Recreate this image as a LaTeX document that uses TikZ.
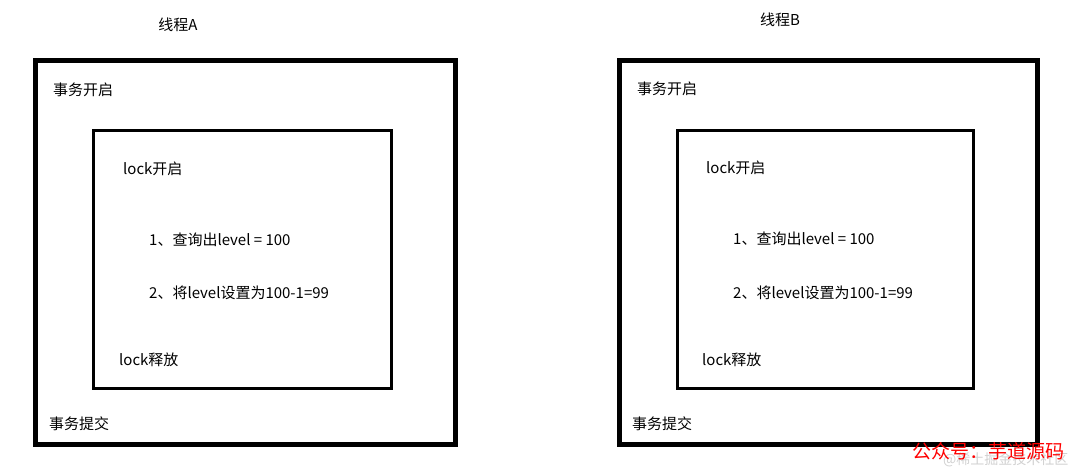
\documentclass[tikz,border=0pt]{standalone}
\usepackage{fontspec}
\setmainfont{Noto Sans CJK SC}
\usepackage{xcolor}

\begin{document}
\begin{tikzpicture}[x=1pt,y=1pt,yscale=-1,xscale=1,
  txbox/.style={line width=5pt},
  lockbox/.style={line width=3pt},
  lbl/.style={anchor=west,inner sep=0pt,font=\fontsize{15}{18}\selectfont}]
\useasboundingbox (0,0) rectangle (1080,474);

%Shape: Rectangle [id:outerA] 
\draw [txbox] (35.5,60) -- (455.5,60) -- (455.5,444) -- (35.5,444) -- cycle ;
%Shape: Rectangle [id:innerA] 
\draw [lockbox] (93.5,130) -- (391.5,130) -- (391.5,388) -- (93.5,388) -- cycle ;
%Shape: Rectangle [id:outerB] 
\draw [txbox] (619.5,60) -- (1037.5,60) -- (1037.5,444.5) -- (619.5,444.5) -- cycle ;
%Shape: Rectangle [id:innerB] 
\draw [lockbox] (677.5,130.5) -- (973.5,130.5) -- (973.5,388.5) -- (677.5,388.5) -- cycle ;

% Text Node
\draw (178,25) node (titleA) [font=\fontsize{15}{18}\selectfont] {线程A};
% Text Node
\draw (780,20) node (titleB) [font=\fontsize{15}{18}\selectfont] {线程B};

% Text Node
\draw (53,90) node (beginA) [lbl] {事务开启};
% Text Node
\draw (123,169) node (lockA) [lbl] {lock开启};
% Text Node
\draw (149,240) node (queryA) [lbl] {1、查询出level = 100};
% Text Node
\draw (149,293) node (setA) [lbl] {2、将level设置为100-1=99};
% Text Node
\draw (119,360) node (unlockA) [lbl] {lock释放};
% Text Node
\draw (49,424) node (commitA) [lbl] {事务提交};

% Text Node
\draw (637,89) node (beginB) [lbl] {事务开启};
% Text Node
\draw (706,168) node (lockB) [lbl] {lock开启};
% Text Node
\draw (733,239) node (queryB) [lbl] {1、查询出level = 100};
% Text Node
\draw (733,293) node (setB) [lbl] {2、将level设置为100-1=99};
% Text Node
\draw (702,360) node (unlockB) [lbl] {lock释放};
% Text Node
\draw (632,424) node (commitB) [lbl] {事务提交};

% Text Node
\draw (943,460) node (markgrey) [anchor=west,inner sep=0pt,text=black!18,font=\fontsize{14}{16}\selectfont] {@稀土掘金技术社区};
% Text Node
\draw (912,451) node (markred) [anchor=west,inner sep=0pt,text=red,font=\fontsize{19}{22}\selectfont] {公众号：芋道源码};

\end{tikzpicture}
\end{document}
